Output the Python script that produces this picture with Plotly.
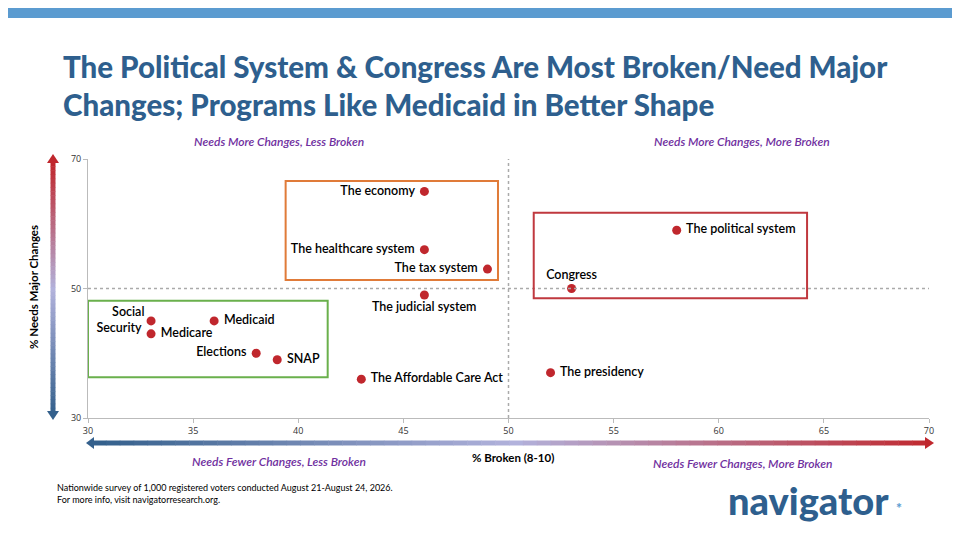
import plotly.graph_objects as go

# data
names = ["The economy", "The healthcare system", "The tax system", "The judicial system",
         "The Affordable Care Act", "Social<br>Security", "Medicare", "Medicaid", "Elections",
         "SNAP", "The political system", "Congress", "The presidency"]
broken = [46, 46, 49, 46, 43, 33, 33, 36, 38, 39, 58, 53, 52]
major = [65, 56, 53, 49, 36, 45, 43, 45, 40, 39, 59, 50, 37]
positions = ["middle left", "middle left", "middle left", "bottom center", "middle right",
             "middle left", "middle right", "middle right", "middle left", "middle right",
             "middle right", "top center", "middle right"]

W, H = 960, 540
OFF = 8  # page body margin
L, R, T, B = 88, 929, 159, 418  # plot area in screen pixels

# paper coords are relative to the plot area
def px(x):
    return (x - L) / (R - L)

def py(y):
    return (B - y) / (B - T)

def mix(c1, c2, t):
    return "rgb(%d,%d,%d)" % tuple(round(a + (b - a) * t) for a, b in zip(c1, c2))

blue = (52, 96, 140)
pale = (178, 178, 220)
red = (192, 39, 45)

def grad(t):
    return mix(blue, pale, t * 2) if t < 0.5 else mix(pale, red, (t - 0.5) * 2)

fig = go.Figure()
fig.add_trace(go.Scatter(
    x=broken, y=major, mode="markers+text", text=[f" {t} " for t in names], textposition=positions,
    marker=dict(color="#c0272d", size=9, symbol="circle"),
    textfont=dict(family="Lato", size=12.5, color="black", weight=600),
    cliponaxis=False, showlegend=False, hoverinfo="skip"))

shapes = [
    dict(type="rect", xref="paper", yref="paper", x0=px(-20), x1=px(W + 20), y0=py(18), y1=py(-20),
         fillcolor="#5b9bd0", line_width=0, layer="below"),
    dict(type="line", x0=50, x1=50, y0=30, y1=71.8, line=dict(color="#aaaaaa", width=1.5, dash="dot")),
    dict(type="line", x0=30, x1=70, y0=50, y1=50, line=dict(color="#aaaaaa", width=1.5, dash="dot")),
    dict(type="rect", x0=39.4, x1=49.5, y0=51.3, y1=66.6, line=dict(color="#e07b39", width=2)),
    dict(type="rect", x0=51.2, x1=64.2, y0=48.5, y1=61.7, line=dict(color="#c0393f", width=2)),
    dict(type="rect", x0=30, x1=41.4, y0=36.3, y1=48.1, line=dict(color="#6ab04c", width=2)),
]

# gradient arrows
n = 60
x0, x1, yy = 92, 926, 443
for i in range(n):
    a = x0 + (x1 - x0) * i / n
    b = x0 + (x1 - x0) * (i + 1) / n
    shapes.append(dict(type="rect", xref="paper", yref="paper", x0=px(a), x1=px(b + 0.5),
                       y0=py(yy + 2.5), y1=py(yy - 2.5), fillcolor=grad(i / n), line_width=0))
shapes.append(dict(type="path", xref="paper", yref="paper",
                   path=f"M {px(86)} {py(yy)} L {px(94)} {py(yy-6)} L {px(94)} {py(yy+6)} Z",
                   fillcolor=grad(0), line_width=0))
shapes.append(dict(type="path", xref="paper", yref="paper",
                   path=f"M {px(934)} {py(yy)} L {px(925)} {py(yy-6)} L {px(925)} {py(yy+6)} Z",
                   fillcolor=grad(1), line_width=0))
xx, ya, yb = 53, 162, 412
for i in range(n):
    a = ya + (yb - ya) * i / n
    b = ya + (yb - ya) * (i + 1) / n
    shapes.append(dict(type="rect", xref="paper", yref="paper", x0=px(xx - 2.5), x1=px(xx + 2.5),
                       y0=py(b + 0.5), y1=py(a), fillcolor=grad(1 - i / n), line_width=0))
shapes.append(dict(type="path", xref="paper", yref="paper",
                   path=f"M {px(xx)} {py(154)} L {px(xx-6)} {py(163)} L {px(xx+6)} {py(163)} Z",
                   fillcolor=grad(1), line_width=0))
shapes.append(dict(type="path", xref="paper", yref="paper",
                   path=f"M {px(xx)} {py(420)} L {px(xx-6)} {py(411)} L {px(xx+6)} {py(411)} Z",
                   fillcolor=grad(0), line_width=0))

purple = "#7030a0"
def note(x, y, text, size=12, color="black", xanchor="center", weight=400, italic=False, **kw):
    fig.add_annotation(xref="paper", yref="paper", x=px(x), y=py(y), text=text, showarrow=False,
                       xanchor=xanchor, yanchor="middle", align="left",
                       font=dict(family="Lato", size=size, color=color, weight=weight,
                                 style="italic" if italic else "normal"), **kw)

note(61, 86, "The Political System & Congress Are Most Broken/Need Major<br>Changes; Programs Like Medicaid in Better Shape",
     size=29.5, color="#2e5f8e", xanchor="left", weight=900)
note(279, 142, "Needs More Changes, Less Broken", color=purple, italic=True, weight=600)
note(742, 142, "Needs More Changes, More Broken", color=purple, italic=True, weight=600)
note(279, 461, "Needs Fewer Changes, Less Broken", color=purple, italic=True, weight=600)
note(742, 463, "Needs Fewer Changes, More Broken", color=purple, italic=True, weight=600)
note(513, 457, "% Broken (8-10)", size=11.5, weight=700)
note(33, 287, "% Needs Major Changes", size=11.5, weight=700, textangle=-90)
note(55, 493, "Nationwide survey of 1,000 registered voters conducted August 21-August 24, 2026.<br>For more info, visit navigatorresearch.org.",
     size=9, xanchor="left")
note(808, 500, "navigator", size=38, color="#2e5f8e", weight=900)
note(899, 507, "*", size=14, color="#5b9bd0", weight=900)

fig.update_layout(
    width=W, height=H,
    margin=dict(l=L - OFF, r=W - (R - OFF), t=T - OFF, b=H - (B - OFF)),
    plot_bgcolor="white", paper_bgcolor="white", shapes=shapes,
    xaxis=dict(range=[30, 70], tickvals=[30, 35, 40, 45, 50, 55, 60, 65, 70], showgrid=False,
               zeroline=False, showline=True, linecolor="#bbbbbb", ticks="outside", ticklen=4,
               tickcolor="#bbbbbb", tickfont=dict(family="Open Sans", size=9, color="#333")),
    yaxis=dict(range=[30, 70], tickvals=[30, 50, 70], showgrid=False, zeroline=False,
               showline=True, linecolor="#bbbbbb", ticks="outside", ticklen=4, tickcolor="#bbbbbb",
               tickfont=dict(family="Open Sans", size=9, color="#333")),
)

fig.write_html("out.html")
